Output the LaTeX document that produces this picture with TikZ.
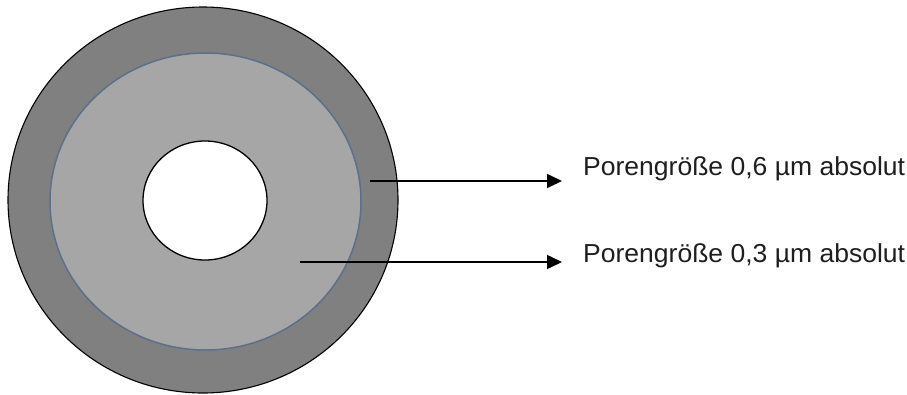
\documentclass[tikz,border=0pt]{standalone}
\usepackage{fontspec}
\setmainfont{Liberation Sans}
\usetikzlibrary{arrows.meta}
\definecolor{outergrey}{RGB}{128,128,128}
\definecolor{midgrey}{RGB}{166,166,166}
\definecolor{midline}{RGB}{90,112,140}
\definecolor{txt}{RGB}{30,30,30}
\tikzset{
  label text/.style={anchor=base west, inner sep=0pt, text=txt, font=\fontsize{26}{30}\selectfont},
  pointer/.style={-{Triangle[length=15pt,width=14pt]}, line width=1.5pt, shorten >=21pt}
}
\begin{document}
\begin{tikzpicture}[x=1pt,y=-1pt]
\useasboundingbox (0,0) rectangle (907,394);
\fill[white] (0,0) rectangle (907,394);
\draw[fill=outergrey, draw=black, line width=1.1pt] (203,200) ellipse [x radius=195, y radius=193];
\draw[fill=midgrey, draw=midline, line width=1.5pt] (205.5,201.5) ellipse [x radius=155.5, y radius=148.5];
\draw[fill=white, draw=black, line width=1.3pt] (205,200.5) ellipse [x radius=62, y radius=59.5];
\node[label text] (t1) at (583,175) {\scalebox{1.02}[1]{Porengröße 0,6 µm absolut}};
\node[label text] (t2) at (583,262) {\scalebox{1.02}[1]{Porengröße 0,3 µm absolut}};
\coordinate (s1) at (370,181);
\coordinate (s2) at (300,262);
\draw[pointer] (s1) -- (s1 -| t1.west);
\draw[pointer] (s2) -- (s2 -| t2.west);
\end{tikzpicture}
\end{document}
